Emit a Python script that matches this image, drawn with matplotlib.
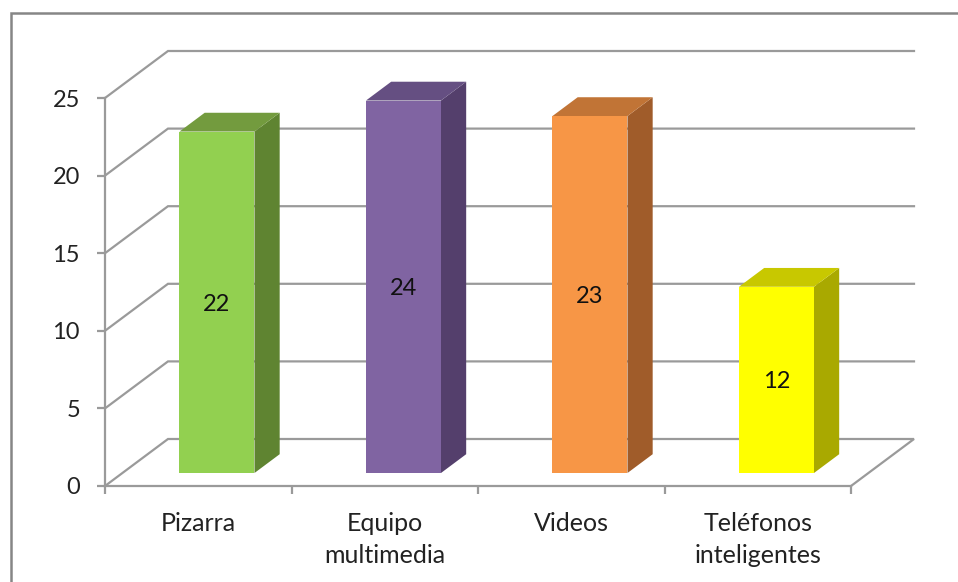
"""Pseudo-3D column chart: bars are extruded polygons on top of a normal axes."""
import matplotlib
matplotlib.use("agg")
import matplotlib.pyplot as plt
from matplotlib.lines import Line2D
from matplotlib.patches import Polygon

plt.rcParams["font.family"] = ["Lato", "DejaVu Sans"]

CATEGORIES = ["Pizarra", "Equipo\nmultimedia", "Videos", "Teléfonos\ninteligentes"]
VALUES = [22, 24, 23, 12]
FRONT = ["#92d050", "#8064a2", "#f79646", "#ffff00"]
TOPS = ["#739b3e", "#654f82", "#c17436", "#c8c800"]
SIDES = ["#5f8431", "#543f6c", "#a05c2a", "#a9a900"]
YTICKS = [0, 5, 10, 15, 20, 25]

W, H = 958, 582
GRID = "#9a9a9a"
# floor depth in data units (63 px across, 47 px up)
DEPTH_X = 63 / 186.5
DEPTH_Y = 47 / (388 / 25)
BAR_W = 75 / 186.5
BAR_DEPTH = 13 / 47      # how far back the front face sits
BAR_THICK = 0.4          # extrusion as a share of the floor depth
BAR_SHIFT = 0.007

fig = plt.figure(figsize=(W / 100, H / 100), dpi=100)
ax = fig.add_axes([105 / W, (H - 486) / H, 746 / W, 388 / H])
ax.set_xlim(0, 4)
ax.set_ylim(0, 25)
ax.patch.set_visible(False)
for s in ("top", "right"):
    ax.spines[s].set_visible(False)
for s in ("left", "bottom"):
    ax.spines[s].set_color(GRID)
    ax.spines[s].set_linewidth(1.6)

ax.set_yticks(YTICKS)
ax.set_xticks(range(5))
ax.set_xticklabels([])
ax.tick_params(axis="both", color=GRID, width=1.6, length=6)
ax.tick_params(axis="y", labelsize=17, labelcolor="#222222", pad=12)


def project(x, y, d):
    return x + d * DEPTH_X, y + d * DEPTH_Y


# back wall and floor gridlines
for v in YTICKS:
    p0 = project(0, v, 0)
    p1 = project(0, v, 1)
    p2 = project(4, v, 1)
    pts = [p0, p1, p2]
    if v == 0:
        pts.append(project(4, 0, 0))
    ax.plot(*zip(*pts), color=GRID, lw=1.6, clip_on=False, zorder=1,
            solid_joinstyle="miter")

for i, val in enumerate(VALUES):
    cx = i + 0.5 + BAR_SHIFT
    x0, x1 = cx - BAR_W / 2, cx + BAR_W / 2
    d0, d1 = BAR_DEPTH, BAR_DEPTH + BAR_THICK
    front = [project(x0, 0, d0), project(x1, 0, d0), project(x1, val, d0), project(x0, val, d0)]
    top = [project(x0, val, d0), project(x1, val, d0), project(x1, val, d1), project(x0, val, d1)]
    side = [project(x1, 0, d0), project(x1, 0, d1), project(x1, val, d1), project(x1, val, d0)]
    for pts, col in ((side, SIDES[i]), (top, TOPS[i]), (front, FRONT[i])):
        ax.add_patch(Polygon(pts, closed=True, facecolor=col, edgecolor="none",
                             clip_on=False, zorder=3))
    ax.annotate(str(val), xy=project(cx, val / 2, d0), xytext=(0, -1.5),
                textcoords="offset points", ha="center", va="center", fontsize=17,
                color="#111111", zorder=4)
    ax.annotate(CATEGORIES[i], xy=(i + 0.5, 0), xycoords="data", xytext=(0, -19),
                textcoords="offset points", ha="center", va="top", fontsize=18,
                color="#222222", linespacing=1.45, annotation_clip=False)

# outer chart frame: only the left and top edges are inside the crop
fig.add_artist(Line2D([10.5 / W, 10.5 / W, 1], [0, (H - 13) / H, (H - 13) / H],
                      color="#868686", lw=1.8, solid_joinstyle="miter"))

fig.savefig("out.png", dpi=100)
